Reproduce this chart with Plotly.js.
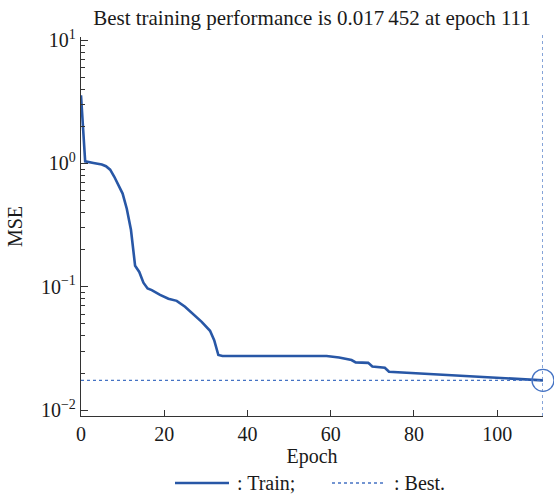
<!DOCTYPE html>
<html>
<head>
<meta charset="utf-8">
<script src="https://cdn.plot.ly/plotly-3.0.1.min.js"></script>
<style>html,body{margin:0;padding:0;background:#fff;}#chart{width:554px;height:494px;}</style>
</head>
<body>
<div id="chart"></div>
<script>
// ---- data ----
var epochs = [0, 1, 3, 4, 5, 6, 7, 8, 9, 10, 11, 12, 13, 14, 15, 16, 17, 19, 21, 23, 25, 27, 29, 31, 32, 33, 34, 40, 50, 59, 62, 65, 66, 69, 70, 73, 74, 80, 90, 100, 111];
var trainMSE = [3.57, 1.04, 1.01, 1.00, 0.98, 0.95, 0.89, 0.78, 0.67, 0.57, 0.43, 0.29, 0.148, 0.132, 0.108, 0.097, 0.094, 0.086, 0.080, 0.077, 0.069, 0.060, 0.052, 0.044, 0.037, 0.028, 0.0275, 0.0275, 0.0276, 0.0275, 0.0267, 0.0255, 0.0244, 0.0242, 0.0226, 0.0221, 0.0205, 0.0200, 0.0192, 0.0183, 0.017452];
var bestEpoch = 111;
var bestMSE = 0.017452;
var xTickVals = [0, 20, 40, 60, 80, 100];
var yTickVals = [0.01, 0.1, 1, 10];
var yTickText = ['10<sup>\u22122</sup>', '10<sup>\u22121</sup>', '10<sup>0</sup>', '10<sup>1</sup>'];
var titleText = 'Best training performance is 0.017\u2009452 at epoch 111';
var legendNames = [': Train;', ': Best.'];

var FONT = '"Liberation Serif", "Times New Roman", Times, serif';
var lineBlue = '#2857a6';
var dotBlue = '#4573c4';
var axisCol = '#333333';
var txtCol = '#1a1a1a';

var traces = [
  {x: epochs, y: trainMSE, type: 'scatter', mode: 'lines',
   line: {color: lineBlue, width: 2.6}, showlegend: false, hoverinfo: 'skip'},
  {x: [0, bestEpoch], y: [bestMSE, bestMSE], type: 'scatter', mode: 'lines',
   line: {color: dotBlue, width: 1.3, dash: 'dot'}, showlegend: false, hoverinfo: 'skip'},
  {x: [bestEpoch], y: [bestMSE], type: 'scatter', mode: 'markers', cliponaxis: false,
   marker: {symbol: 'circle-open', size: 22, color: dotBlue, line: {color: dotBlue, width: 1.3}},
   showlegend: false, hoverinfo: 'skip'}
];

var L = {l: 81, r: 11, t: 37, b: 78};
var pw = 554 - L.l - L.r, ph = 494 - L.t - L.b;
function px(x) { return (x - L.l) / pw; }
function py(y) { return (494 - L.b - y) / ph; }
var legY = py(483);

var layout = {
  width: 554, height: 494,
  margin: {l: L.l, r: L.r, t: L.t, b: L.b, pad: 0},
  paper_bgcolor: '#ffffff', plot_bgcolor: '#ffffff',
  font: {family: FONT, size: 20, color: txtCol},
  title: {text: titleText, font: {family: FONT, size: 21, color: txtCol},
          x: (L.l + pw / 2) / 554, xanchor: 'center', y: 1 - 18 / 494, yanchor: 'middle', yref: 'container'},
  showlegend: false,
  xaxis: {range: [0, bestEpoch], tickmode: 'array', tickvals: xTickVals, ticks: 'inside', ticklen: 6,
          tickcolor: axisCol, tickwidth: 1, showline: true, linecolor: axisCol, linewidth: 1.2,
          showgrid: false, zeroline: false, mirror: false,
          tickfont: {family: FONT, size: 20, color: txtCol},
          title: {text: 'Epoch', font: {family: FONT, size: 20, color: txtCol}, standoff: 0}},
  yaxis: {type: 'log', range: [-2.047, 1.025], tickmode: 'array', tickvals: yTickVals, ticktext: yTickText,
          ticks: 'inside', ticklen: 7, tickcolor: axisCol, tickwidth: 1, showline: true, linecolor: axisCol,
          linewidth: 1.2, showgrid: false, zeroline: false, mirror: false,
          minor: {dtick: 'D1', ticks: 'inside', ticklen: 4, tickcolor: axisCol, tickwidth: 1, showgrid: false},
          tickfont: {family: FONT, size: 20, color: txtCol},
          title: {text: 'MSE', font: {family: FONT, size: 20, color: txtCol}, standoff: 12}},
  shapes: [
    {type: 'line', xref: 'x', yref: 'paper', x0: bestEpoch, x1: bestEpoch, y0: 0, y1: 1.005,
     line: {color: dotBlue, width: 1.3, dash: 'dot'}},
    {type: 'line', xref: 'paper', yref: 'paper', x0: px(175), x1: px(229), y0: legY, y1: legY,
     line: {color: lineBlue, width: 2.6}},
    {type: 'line', xref: 'paper', yref: 'paper', x0: px(332), x1: px(384), y0: legY, y1: legY,
     line: {color: dotBlue, width: 1.3, dash: 'dot'}}
  ],
  annotations: [
    {xref: 'paper', yref: 'paper', x: px(235), y: legY, xanchor: 'left', yanchor: 'middle', showarrow: false,
     text: legendNames[0], font: {family: FONT, size: 20, color: txtCol}},
    {xref: 'paper', yref: 'paper', x: px(392), y: legY, xanchor: 'left', yanchor: 'middle', showarrow: false,
     text: legendNames[1], font: {family: FONT, size: 20, color: txtCol}}
  ]
};

Plotly.newPlot('chart', traces, layout, {displayModeBar: false, staticPlot: true});
</script>
</body>
</html>
